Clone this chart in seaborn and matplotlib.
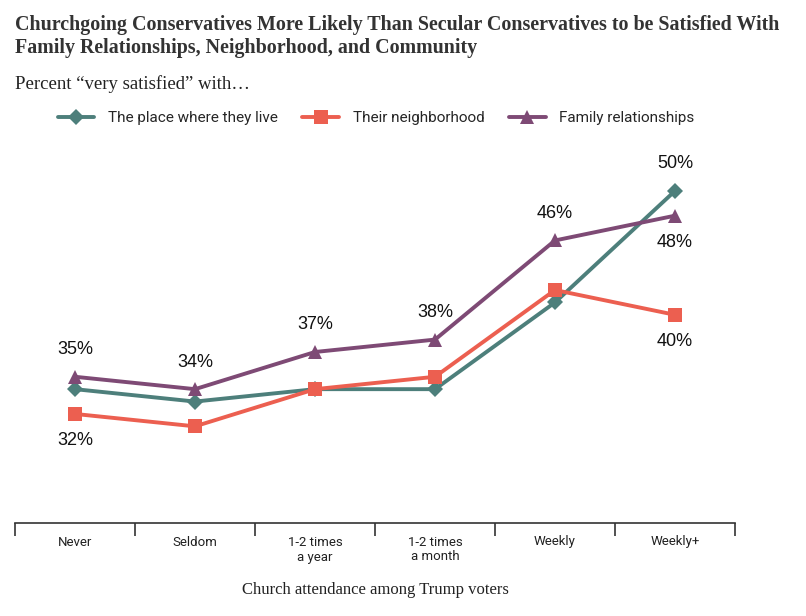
import pandas as pd
import matplotlib.pyplot as plt
import seaborn as sns
from matplotlib.lines import Line2D

categories = ["Never", "Seldom", "1-2 times\na year", "1-2 times\na month", "Weekly", "Weekly+"]
series_names = ["The place where they live", "Their neighborhood", "Family relationships"]
place_values = [34, 33, 34, 34, 41, 50]
neighborhood_values = [32, 31, 34, 35, 42, 40]
family_values = [35, 34, 37, 38, 46, 48]

# which points get a label, and on which side (+1 above, -1 below)
place_labels = [None, None, None, None, None, 1]
neighborhood_labels = [-1, None, None, None, None, -1]
family_labels = [1, 1, 1, 1, 1, -1]

colors = ["#4d7f7b", "#ec5f50", "#7e4a75"]
markers = ["D", "s", "^"]
marker_sizes = [8, 10, 10]

df = pd.DataFrame({
    "pos": list(range(len(categories))) * 3,
    "value": place_values + neighborhood_values + family_values,
    "series": [s for s in series_names for _ in categories],
})
label_sides = place_labels + neighborhood_labels + family_labels

sns.set_style("white")
fig = plt.figure(figsize=(8.06, 6.16), dpi=100)
ax = fig.add_axes([15 / 806, 93 / 616, 720 / 806, 373 / 616])

handles = []
for name, color, marker, ms in zip(series_names, colors, markers, marker_sizes):
    sub = df[df["series"] == name]
    sns.lineplot(data=sub, x="pos", y="value", ax=ax, color=color, linewidth=2.8,
                 marker=marker, markersize=ms, markeredgewidth=0, legend=False)
    handles.append(Line2D([0], [0], color=color, linewidth=2.8, marker=marker,
                          markersize=ms, markeredgewidth=0))

for (_, row), side in zip(df.iterrows(), label_sides):
    if side is None:
        continue
    ax.annotate(f"{row['value']}%", (row["pos"], row["value"]), xytext=(0, 27 * side),
                textcoords="offset pixels", ha="center", va="center",
                fontsize=13, family="Liberation Sans", color="#111111")

ax.set_xlim(-0.5, len(categories) - 0.5)
ax.set_ylim(23.2, 53.3)
ax.set_yticks([])
ax.set_xticks(range(len(categories)))
ax.set_xticklabels(categories, fontsize=9.5, family="Roboto", color="#222222")
ax.set_xticks([i - 0.5 for i in range(len(categories) + 1)], minor=True)
ax.tick_params(axis="x", which="major", length=0, pad=9)
ax.tick_params(axis="x", which="minor", length=9, width=1.2, color="#333333", bottom=True)
for side in ["top", "left", "right"]:
    ax.spines[side].set_visible(False)
ax.spines["bottom"].set_color("#333333")
ax.spines["bottom"].set_linewidth(1.2)
ax.set_xlabel("Church attendance among Trump voters", fontsize=12,
              family="Liberation Serif", color="#222222", labelpad=13)
ax.set_ylabel("")

fig.text(15 / 806, 1 - 25 / 616, "Churchgoing Conservatives More Likely Than Secular Conservatives to be Satisfied With",
         fontsize=14.4, fontweight="bold", family="Liberation Serif", color="#333333", va="center")
fig.text(15 / 806, 1 - 48 / 616, "Family Relationships, Neighborhood, and Community",
         fontsize=14.4, fontweight="bold", family="Liberation Serif", color="#333333", va="center")
fig.text(15 / 806, 1 - 84 / 616, "Percent \u201cvery satisfied\u201d with\u2026",
         fontsize=13.5, family="Liberation Serif", color="#222222", va="center")

fig.legend(handles, series_names, loc="center left", bbox_to_anchor=(50 / 806, 1 - 118 / 616),
           ncol=3, frameon=False, prop={"family": "Roboto", "size": 11},
           handlelength=2.4, handletextpad=0.9, columnspacing=1.6, borderpad=0)

plt.savefig("out.png", dpi=100)
